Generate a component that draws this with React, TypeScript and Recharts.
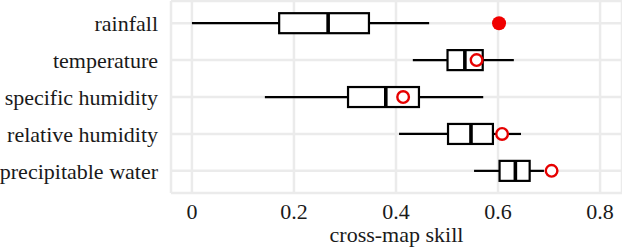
import React from 'react';
import { ComposedChart, Bar, XAxis, YAxis, CartesianGrid } from 'recharts';

const categories = ['rainfall', 'temperature', 'specific humidity', 'relative humidity', 'precipitable water'];
const whiskerLow = [0.0, 0.433, 0.143, 0.406, 0.553];
const q1 = [0.171, 0.501, 0.306, 0.502, 0.603];
const median = [0.267, 0.535, 0.38, 0.547, 0.634];
const q3 = [0.347, 0.57, 0.445, 0.59, 0.662];
const whiskerHigh = [0.465, 0.631, 0.571, 0.645, 0.69];
const observed = [0.602, 0.558, 0.414, 0.608, 0.705];
const significant = [true, false, false, false, false];
const xTicks = [0, 0.2, 0.4, 0.6, 0.8];

const rows = categories.map((name, i) => ({
  name,
  lo: whiskerLow[i],
  q1: q1[i],
  med: median[i],
  q3: q3[i],
  hi: whiskerHigh[i],
  obs: observed[i],
  sig: significant[i],
}));

const FONT = '"Liberation Serif", "Times New Roman", serif';

const BoxShape = (props: any) => {
  const { x, y, width, height, payload } = props;
  const d = payload;
  const k = width / (d.hi - d.lo);
  const px = (v: number) => x + (v - d.lo) * k;
  const cy = y + height / 2;
  const bx1 = px(d.q1);
  const bx2 = px(d.q3);
  const mx = px(d.med);
  const ox = px(d.obs);
  return (
    <g>
      <line x1={px(d.lo)} x2={bx1} y1={cy} y2={cy} stroke="#000" strokeWidth={2.2} />
      <line x1={bx2} x2={px(d.hi)} y1={cy} y2={cy} stroke="#000" strokeWidth={2.2} />
      <rect x={bx1} y={y} width={bx2 - bx1} height={height} fill="#fff" stroke="#000" strokeWidth={2.2} />
      <line x1={mx} x2={mx} y1={y} y2={y + height} stroke="#000" strokeWidth={3.6} />
      {d.sig ? (
        <circle cx={ox} cy={cy} r={7} fill="#f00000" stroke="none" />
      ) : (
        <circle cx={ox} cy={cy} r={5.8} fill="#fff" stroke="#e60000" strokeWidth={2.4} />
      )}
    </g>
  );
};

export default function App() {
  return (
    <div style={{ position: 'absolute', left: 0, top: 0 }}>
      <ComposedChart
        width={622}
        height={248}
        data={rows}
        layout="vertical"
        margin={{ top: 1, right: 0, bottom: 0, left: 0 }}
        barCategoryGap="23%"
      >
        <CartesianGrid stroke="#ebebeb" strokeWidth={2.5} />
        <XAxis
          type="number"
          domain={[-0.041, 0.843]}
          allowDataOverflow
          ticks={xTicks}
          tickFormatter={(v: number) => (v === 0 ? '0' : String(v))}
          axisLine={false}
          tickLine={false}
          tickSize={0}
          tickMargin={10}
          height={55}
          tick={{ fontFamily: FONT, fontSize: 22, fill: '#1a1a1a' }}
          label={{ value: 'cross-map skill', position: 'insideBottom', offset: 6, fontFamily: FONT, fontSize: 22, fill: '#1a1a1a' }}
        />
        <YAxis
          type="category"
          dataKey="name"
          width={171}
          axisLine={false}
          tickLine={false}
          tickSize={0}
          tickMargin={13}
          padding={{ top: 3.7, bottom: 3.7 }}
          interval={0}
          tick={{ fontFamily: FONT, fontSize: 22, fill: '#1a1a1a' }}
        />
        <Bar dataKey={(d: any) => [d.lo, d.hi]} shape={BoxShape} isAnimationActive={false} />
      </ComposedChart>
    </div>
  );
}
